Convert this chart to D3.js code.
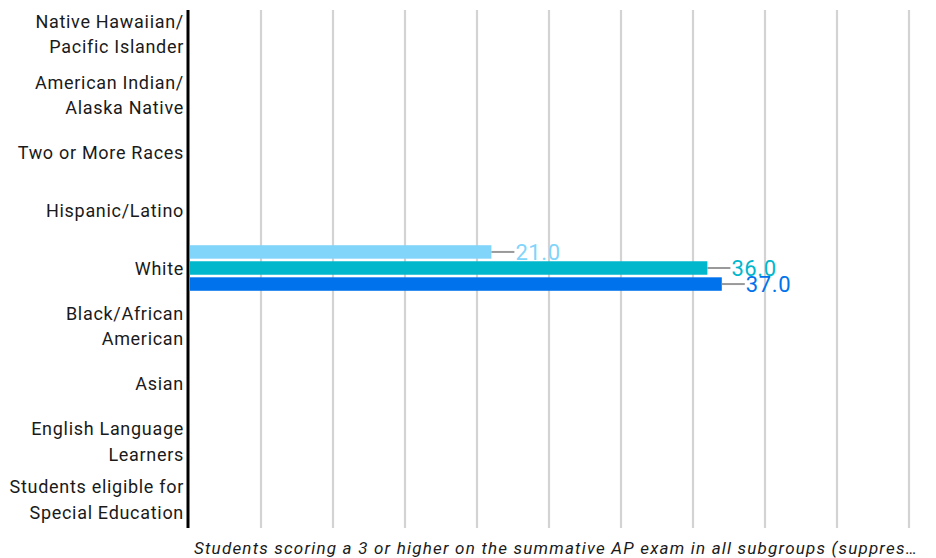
<!DOCTYPE html>
<html>
<head>
<meta charset="utf-8">
<script src="https://cdn.jsdelivr.net/npm/d3@7"></script>
<style>
  html, body { margin: 0; padding: 0; background: #fff; }
  svg { display: block; font-family: Roboto, "Noto Sans", sans-serif; }
</style>
</head>
<body>
<svg id="chart" width="936" height="558"></svg>
<script>
// ---- data ----
const categories = [
  "Native Hawaiian/\nPacific Islander",
  "American Indian/\nAlaska Native",
  "Two or More Races",
  "Hispanic/Latino",
  "White",
  "Black/African\nAmerican",
  "Asian",
  "English Language\nLearners",
  "Students eligible for\nSpecial Education"
];
const seriesNames = ["Series A", "Series B", "Series C"];
const seriesA = [null, null, null, null, 21.0, null, null, null, null];
const seriesB = [null, null, null, null, 36.0, null, null, null, null];
const seriesC = [null, null, null, null, 37.0, null, null, null, null];
const seriesColors = ["#81D4FA", "#00B7CC", "#0073EC"];
const xTicks = [0, 5, 10, 15, 20, 25, 30, 35, 40, 45, 50];
const axisTitle = "Students scoring a 3 or higher on the summative AP exam in all subgroups (suppres\u2026";

const seriesValues = [seriesA, seriesB, seriesC];

// ---- layout ----
const svg = d3.select("#chart");
const mLeft = 189, mRight = 909, mTop = 8, mBottom = 528;

const x = d3.scaleLinear().domain([0, 50]).range([mLeft, mRight]);
const y = d3.scaleBand().domain(categories).range([mTop, mBottom]);
const yi = d3.scaleBand().domain(seriesNames).range([0, y.bandwidth()])
  .paddingInner(0.16).paddingOuter(0.38);

// gridlines
svg.append("g").selectAll("line")
  .data(xTicks.filter(t => t > 0))
  .join("line")
  .attr("x1", d => x(d)).attr("x2", d => x(d))
  .attr("y1", mTop + 2).attr("y2", mBottom)
  .attr("stroke", "#d3d3d3").attr("stroke-width", 2.2);

// bars
const rows = [];
categories.forEach((c, i) => {
  seriesNames.forEach((s, j) => {
    const v = seriesValues[j][i];
    if (v !== null && v !== undefined) rows.push({ cat: c, series: s, value: v, color: seriesColors[j] });
  });
});

const barG = svg.append("g");
barG.selectAll("rect").data(rows).join("rect")
  .attr("x", x(0) + 1)
  .attr("y", d => y(d.cat) + yi(d.series))
  .attr("width", d => x(d.value) - x(0) - 1)
  .attr("height", yi.bandwidth())
  .attr("fill", d => d.color);

// leader lines + labels
barG.selectAll("line.lead").data(rows).join("line")
  .attr("class", "lead")
  .attr("x1", d => x(d.value))
  .attr("x2", d => x(d.value) + 23)
  .attr("y1", d => y(d.cat) + yi(d.series) + yi.bandwidth() / 2)
  .attr("y2", d => y(d.cat) + yi(d.series) + yi.bandwidth() / 2)
  .attr("stroke", "#999").attr("stroke-width", 2);

barG.selectAll("text.val").data(rows).join("text")
  .attr("class", "val")
  .attr("x", d => x(d.value) + 24)
  .attr("y", d => y(d.cat) + yi(d.series) + yi.bandwidth() / 2)
  .attr("dy", "0.36em")
  .attr("font-size", 22)
  .attr("letter-spacing", "0.6px")
  .attr("fill", d => d.color)
  .text(d => d.value.toFixed(1));

// y axis line
svg.append("line")
  .attr("x1", mLeft - 1).attr("x2", mLeft - 1)
  .attr("y1", mTop + 2).attr("y2", mBottom)
  .attr("stroke", "#000").attr("stroke-width", 3);

// category labels
const lineH = 25.5;
const labG = svg.append("g");
categories.forEach((c, i) => {
  const lines = c.split("\n");
  const cy = y(c) + y.bandwidth() / 2 - (i === 0 ? 3 : 0);
  const t = labG.append("text")
    .attr("text-anchor", "end")
    .attr("font-size", 18)
    .attr("letter-spacing", "0.7px")
    .attr("fill", "#1a1a1a");
  lines.forEach((ln, k) => {
    t.append("tspan")
      .attr("x", 184)
      .attr("y", cy + (k - (lines.length - 1) / 2) * lineH)
      .attr("dy", "0.38em")
      .text(ln);
  });
});

// axis title
svg.append("text")
  .attr("x", 556).attr("y", 548)
  .attr("dy", "0.35em")
  .attr("text-anchor", "middle")
  .attr("font-size", 17)
  .attr("letter-spacing", "1.2px")
  .attr("font-style", "italic")
  .attr("fill", "#1a1a1a")
  .text(axisTitle);
</script>
</body>
</html>
